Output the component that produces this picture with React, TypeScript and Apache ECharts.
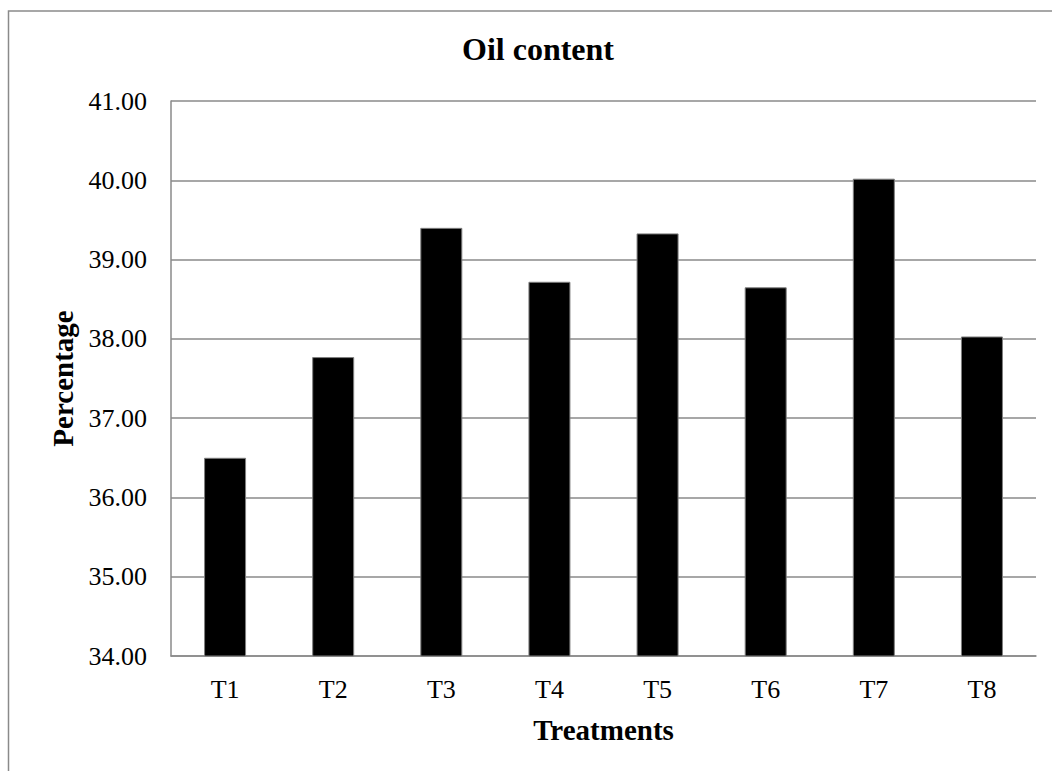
import React, { useEffect, useRef } from "react";
import * as echarts from "echarts";

const categories = ["T1", "T2", "T3", "T4", "T5", "T6", "T7", "T8"];
const oilContent = [36.5, 37.77, 39.4, 38.72, 39.33, 38.65, 40.02, 38.03];
const yMin = 34;
const yMax = 41;
const yInterval = 1;

const FONT = '"Liberation Serif", "Times New Roman", serif';

export default function App() {
  const ref = useRef<HTMLDivElement>(null);
  useEffect(() => {
    if (!ref.current) return;
    const chart = echarts.init(ref.current, null, { renderer: "svg" });
    chart.setOption({
      animation: false,
      backgroundColor: "#ffffff",
      graphic: [
        {
          type: "rect",
          shape: { x: 8.5, y: 11, width: 1100, height: 800 },
          style: { fill: "none", stroke: "#8a8a8a", lineWidth: 1.5 },
          silent: true,
        },
        {
          type: "text",
          x: 538,
          y: 33,
          style: {
            text: "Oil content",
            font: `bold 32px ${FONT}`,
            fill: "#000",
            textAlign: "center",
            textVerticalAlign: "top",
          },
        },
      ],
      grid: { left: 171, top: 101, right: 16, bottom: 115, containLabel: false },
      xAxis: {
        type: "category",
        data: categories,
        name: "Treatments",
        nameLocation: "middle",
        nameGap: 59,
        nameTextStyle: { fontFamily: FONT, fontSize: 29, fontWeight: "bold", color: "#000" },
        axisLine: { show: true, lineStyle: { color: "#8a8a8a", width: 1.5 } },
        axisTick: { show: false },
        axisLabel: { fontFamily: FONT, fontSize: 26, color: "#000", margin: 20 },
        splitLine: { show: false },
      },
      yAxis: {
        type: "value",
        min: yMin,
        max: yMax,
        interval: yInterval,
        name: "Percentage",
        nameLocation: "middle",
        nameGap: 86,
        nameRotate: 90,
        nameTextStyle: { fontFamily: FONT, fontSize: 29, fontWeight: "bold", color: "#000" },
        axisLine: { show: true, lineStyle: { color: "#8a8a8a", width: 1.5 } },
        axisTick: { show: false },
        axisLabel: {
          fontFamily: FONT,
          fontSize: 26,
          color: "#000",
          margin: 24,
          formatter: (v: number) => v.toFixed(2),
        },
        splitLine: { show: true, lineStyle: { color: "#8a8a8a", width: 1.5 } },
      },
      series: [
        {
          type: "bar",
          data: oilContent,
          barWidth: 42,
          itemStyle: { color: "#000000", borderColor: "#7f7f7f", borderWidth: 1 },
        },
      ],
    });
    return () => chart.dispose();
  }, []);
  return (
    <div
      ref={ref}
      style={{ position: "fixed", left: 0, top: 0, width: 1052, height: 771, background: "#fff" }}
    />
  );
}
